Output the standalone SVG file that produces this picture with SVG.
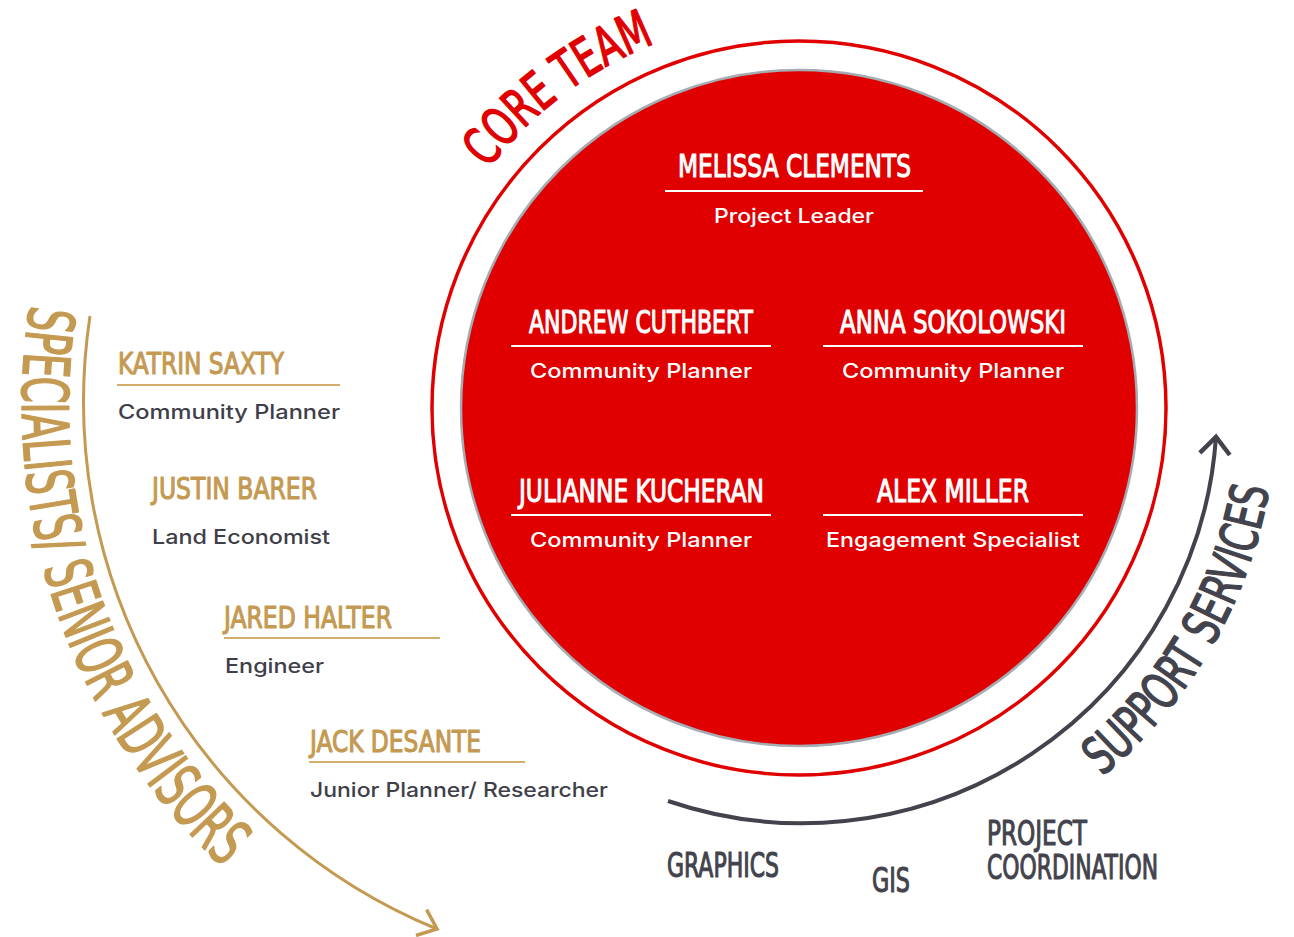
<svg xmlns="http://www.w3.org/2000/svg" width="1294" height="937" viewBox="0 0 1294 937">
<style>
.hd{font-family:"DejaVu Sans Condensed","DejaVu Sans",sans-serif;font-weight:normal;stroke-width:1.1;stroke-linejoin:round;}
.sb{font-family:Inter,"Noto Sans",sans-serif;font-weight:500;}
.wn{fill:#ffffff;stroke:#ffffff;font-size:32px;}
.ws{fill:#ffffff;font-size:20px;}
.gn{fill:#c49a52;stroke:#c49a52;font-size:30px;}
.gs{fill:#3f3f4a;font-size:20px;}
.bl{fill:#43434d;stroke:#43434d;font-size:34px;}
.cr{fill:#e00000;stroke:#e00000;stroke-width:1.5;}
.cg{fill:#c49a52;stroke:#c49a52;stroke-width:1.6;}
.cd{fill:#43434d;stroke:#43434d;stroke-width:1.5;}
.wl{stroke:#ffffff;stroke-width:2;}
.gl{stroke:#d2ae6a;stroke-width:2;}
</style>
<defs>
<marker id="ag" markerUnits="userSpaceOnUse" markerWidth="40" markerHeight="40" refX="0" refY="0" viewBox="-30 -20 40 40" orient="auto" overflow="visible">
<path d="M -17 -14 L 0 0 L -17 14" fill="none" stroke="#c49a52" stroke-width="3.5" stroke-linecap="butt"/>
</marker>
<marker id="ad" markerUnits="userSpaceOnUse" markerWidth="40" markerHeight="40" refX="0" refY="0" viewBox="-30 -20 40 40" orient="auto" overflow="visible">
<path d="M -17 -15 L 0 0 L -17 15" fill="none" stroke="#43434d" stroke-width="4.5" stroke-linecap="butt"/>
</marker>
<path id="pCore" d="M 488.4 168.8 A 392 392 0 0 1 730.9 22"/>
<path id="pSpec" d="M 30 305 A 632 632 0 0 0 291.5 922.7"/>
<path id="pSupp" d="M 1102.2 776.3 A 477 477 0 0 0 1276 408"/>
</defs>
<rect width="1294" height="937" fill="#ffffff"/>

<g id="core-circle">
<circle cx="799" cy="408" r="367" fill="none" stroke="#e00000" stroke-width="3.5"/>
<circle cx="799" cy="408" r="338" fill="#e00000" stroke="#a3adb3" stroke-width="2.5"/>
</g>

<g id="connectors" fill="none">
<path d="M 90 316 A 570 570 0 0 0 437 929" stroke="#c49a52" stroke-width="3" marker-end="url(#ag)"/>
<path d="M 668 801 A 415 415 0 0 0 1216 437" stroke="#43434d" stroke-width="4" marker-end="url(#ad)"/>
</g>

<g id="label-core-team">
<text class="hd cr" font-size="53"><textPath href="#pCore" textLength="211" lengthAdjust="spacingAndGlyphs">CORE TEAM</textPath></text>
</g>
<g id="label-specialists">
<text class="hd cg" font-size="64"><textPath href="#pSpec" textLength="619" lengthAdjust="spacingAndGlyphs">SPECIALISTS/ SENIOR ADVISORS</textPath></text>
</g>
<g id="label-support">
<text class="hd cd" font-size="52"><textPath href="#pSupp" textLength="340" lengthAdjust="spacingAndGlyphs">SUPPORT SERVICES</textPath></text>
</g>

<g id="node-melissa" text-anchor="middle">
<text class="hd wn" x="794.5" y="177" textLength="233" lengthAdjust="spacingAndGlyphs">MELISSA CLEMENTS</text>
<line class="wl" x1="665" y1="191" x2="923" y2="191"/>
<text class="sb ws" x="794" y="223" textLength="160" lengthAdjust="spacingAndGlyphs">Project Leader</text>
</g>
<g id="node-andrew" text-anchor="middle">
<text class="hd wn" x="641" y="333" textLength="224" lengthAdjust="spacingAndGlyphs">ANDREW CUTHBERT</text>
<line class="wl" x1="511" y1="346" x2="771" y2="346"/>
<text class="sb ws" x="641" y="378" textLength="222" lengthAdjust="spacingAndGlyphs">Community Planner</text>
</g>
<g id="node-anna" text-anchor="middle">
<text class="hd wn" x="953" y="333" textLength="226" lengthAdjust="spacingAndGlyphs">ANNA SOKOLOWSKI</text>
<line class="wl" x1="823" y1="346" x2="1083" y2="346"/>
<text class="sb ws" x="953" y="378" textLength="222" lengthAdjust="spacingAndGlyphs">Community Planner</text>
</g>
<g id="node-julianne" text-anchor="middle">
<text class="hd wn" x="641.5" y="502" textLength="245" lengthAdjust="spacingAndGlyphs">JULIANNE KUCHERAN</text>
<line class="wl" x1="511" y1="515" x2="771" y2="515"/>
<text class="sb ws" x="641" y="547" textLength="222" lengthAdjust="spacingAndGlyphs">Community Planner</text>
</g>
<g id="node-alex" text-anchor="middle">
<text class="hd wn" x="953" y="502" textLength="152" lengthAdjust="spacingAndGlyphs">ALEX MILLER</text>
<line class="wl" x1="823" y1="515" x2="1083" y2="515"/>
<text class="sb ws" x="953" y="547" textLength="254" lengthAdjust="spacingAndGlyphs">Engagement Specialist</text>
</g>

<g id="node-katrin">
<text class="hd gn" x="118" y="374" textLength="166" lengthAdjust="spacingAndGlyphs">KATRIN SAXTY</text>
<line class="gl" x1="117" y1="385" x2="340" y2="385"/>
<text class="sb gs" x="118" y="419" textLength="222" lengthAdjust="spacingAndGlyphs">Community Planner</text>
</g>
<g id="node-justin">
<text class="hd gn" x="152" y="499" textLength="165" lengthAdjust="spacingAndGlyphs">JUSTIN BARER</text>
<text class="sb gs" x="152" y="544" textLength="178" lengthAdjust="spacingAndGlyphs">Land Economist</text>
</g>
<g id="node-jared">
<text class="hd gn" x="224" y="628" textLength="168" lengthAdjust="spacingAndGlyphs">JARED HALTER</text>
<line class="gl" x1="224" y1="638" x2="440" y2="638"/>
<text class="sb gs" x="225" y="673" textLength="99" lengthAdjust="spacingAndGlyphs">Engineer</text>
</g>
<g id="node-jack">
<text class="hd gn" x="310" y="752" textLength="171" lengthAdjust="spacingAndGlyphs">JACK DESANTE</text>
<line class="gl" x1="309" y1="762" x2="525" y2="762"/>
<text class="sb gs" x="310" y="797" textLength="298" lengthAdjust="spacingAndGlyphs">Junior Planner/ Researcher</text>
</g>

<g id="node-graphics"><text class="hd bl" x="667" y="877" textLength="112" lengthAdjust="spacingAndGlyphs">GRAPHICS</text></g>
<g id="node-gis"><text class="hd bl" x="872" y="892" textLength="38" lengthAdjust="spacingAndGlyphs">GIS</text></g>
<g id="node-project-coordination">
<text class="hd bl" x="987" y="845" textLength="100" lengthAdjust="spacingAndGlyphs">PROJECT</text>
<text class="hd bl" x="987" y="879" textLength="171" lengthAdjust="spacingAndGlyphs">COORDINATION</text>
</g>
</svg>
